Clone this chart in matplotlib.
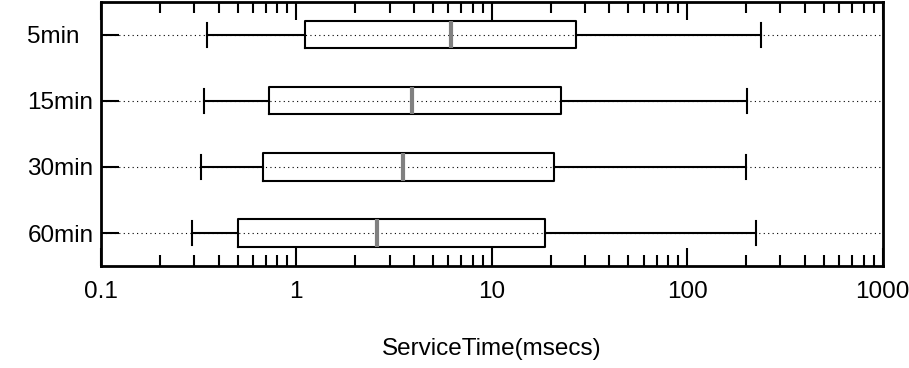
import matplotlib.pyplot as plt
from matplotlib.ticker import LogLocator, FixedLocator, FixedFormatter

plt.rcParams["font.family"] = ["Liberation Sans", "DejaVu Sans"]

labels = ["5min", "15min", "30min", "60min"]
whislo = [0.35, 0.338, 0.324, 0.293]
q1 = [1.11, 0.728, 0.673, 0.505]
med = [6.2, 3.9, 3.52, 2.58]
q3 = [27.0, 22.6, 20.9, 18.7]
whishi = [239, 202, 199, 226]

stats = []
for i in range(len(labels)):
    stats.append(dict(label=labels[i], whislo=whislo[i], q1=q1[i], med=med[i],
                      q3=q3[i], whishi=whishi[i], fliers=[]))

fig = plt.figure(figsize=(9.09, 3.68), dpi=100)
ax = fig.add_axes([0.111, 0.277, 0.860, 0.718])

# top category first
positions = [4, 3, 2, 1]
for p in positions:
    ax.axhline(p, color="black", lw=0.8, ls=(0, (1, 3)), zorder=0)

ax.bxp(stats, positions=positions, vert=False, widths=0.41,
       boxprops=dict(color="black", lw=1.5),
       whiskerprops=dict(color="black", lw=1.5),
       capprops=dict(color="black", lw=1.5),
       medianprops=dict(color="#808080", lw=3),
       capwidths=0.36, showfliers=False)

ax.set_xscale("log")
ax.set_xlim(0.1, 1000)
ax.set_ylim(0.5, 4.5)
ax.xaxis.set_major_locator(FixedLocator([0.1, 1, 10, 100, 1000]))
ax.xaxis.set_major_formatter(FixedFormatter(["0.1", "1", "10", "100", "1000"]))
ax.xaxis.set_minor_locator(LogLocator(base=10, subs=range(2, 10)))
ax.xaxis.set_minor_formatter(FixedFormatter([]))
ax.set_yticks(positions)
ax.set_yticklabels(labels, ha="left")

ax.tick_params(axis="x", which="major", direction="in", top=True, length=13,
               width=1.5, labelsize=17.5, pad=11)
ax.tick_params(axis="x", which="minor", direction="in", top=True, length=8,
               width=1.5)
ax.tick_params(axis="y", direction="in", length=13, width=1.5, labelsize=17.5,
               pad=53, right=False)
for s in ax.spines.values():
    s.set_linewidth(2)

ax.set_xlabel("ServiceTime(msecs)", fontsize=17.5, labelpad=25)

fig.savefig("out.png", dpi=100)
